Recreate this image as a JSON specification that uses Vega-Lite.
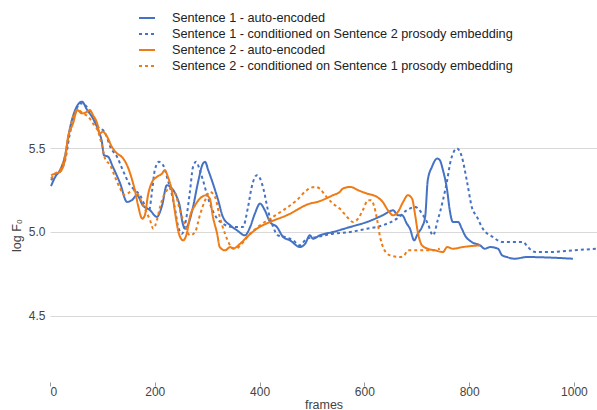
{
  "$schema": "https://vega.github.io/schema/vega-lite/v6.json",
  "width": 547,
  "height": 294,
  "autosize": {"type": "none"},
  "padding": {"left": 50, "top": 88, "right": 0, "bottom": 28},
  "background": "white",
  "config": {
    "view": {"stroke": null},
    "font": "Liberation Sans"
  },
  "data": {"values": [
{"s":"A","f":2,"v":5.275},{"s":"A","f":10,"v":5.33},{"s":"A","f":19,"v":5.37},{"s":"A","f":29,"v":5.46},{"s":"A","f":38,"v":5.62},{"s":"A","f":48,"v":5.73},{"s":"A","f":61,"v":5.78},{"s":"A","f":71,"v":5.73},{"s":"A","f":82,"v":5.68},{"s":"A","f":92,"v":5.61},{"s":"A","f":99,"v":5.54},{"s":"A","f":103,"v":5.46},{"s":"A","f":111,"v":5.45},{"s":"A","f":120,"v":5.39},{"s":"A","f":134,"v":5.29},{"s":"A","f":147,"v":5.18},{"s":"A","f":156,"v":5.19},{"s":"A","f":166,"v":5.22},{"s":"A","f":177,"v":5.16},{"s":"A","f":191,"v":5.13},{"s":"A","f":204,"v":5.09},{"s":"A","f":214,"v":5.16},{"s":"A","f":223,"v":5.28},{"s":"A","f":233,"v":5.26},{"s":"A","f":242,"v":5.21},{"s":"A","f":248,"v":5.15},{"s":"A","f":252,"v":5.07},{"s":"A","f":258,"v":5.02},{"s":"A","f":263,"v":5.04},{"s":"A","f":273,"v":5.15},{"s":"A","f":282,"v":5.29},{"s":"A","f":292,"v":5.41},{"s":"A","f":296,"v":5.42},{"s":"A","f":302,"v":5.37},{"s":"A","f":311,"v":5.29},{"s":"A","f":321,"v":5.19},{"s":"A","f":330,"v":5.09},{"s":"A","f":344,"v":5.04},{"s":"A","f":357,"v":5.01},{"s":"A","f":372,"v":4.98},{"s":"A","f":382,"v":5.03},{"s":"A","f":391,"v":5.11},{"s":"A","f":401,"v":5.17},{"s":"A","f":410,"v":5.13},{"s":"A","f":420,"v":5.06},{"s":"A","f":433,"v":5.03},{"s":"A","f":445,"v":4.97},{"s":"A","f":458,"v":4.95},{"s":"A","f":477,"v":4.91},{"s":"A","f":487,"v":4.93},{"s":"A","f":496,"v":4.98},{"s":"A","f":502,"v":4.96},{"s":"A","f":515,"v":4.98},{"s":"A","f":540,"v":5.0},{"s":"A","f":573,"v":5.03},{"s":"A","f":605,"v":5.06},{"s":"A","f":635,"v":5.1},{"s":"A","f":655,"v":5.13},{"s":"A","f":664,"v":5.1},{"s":"A","f":672,"v":5.1},{"s":"A","f":681,"v":5.05},{"s":"A","f":687,"v":5.02},{"s":"A","f":695,"v":4.95},{"s":"A","f":702,"v":4.99},{"s":"A","f":710,"v":5.03},{"s":"A","f":716,"v":5.09},{"s":"A","f":721,"v":5.31},{"s":"A","f":729,"v":5.39},{"s":"A","f":739,"v":5.44},{"s":"A","f":744,"v":5.43},{"s":"A","f":750,"v":5.37},{"s":"A","f":758,"v":5.25},{"s":"A","f":763,"v":5.13},{"s":"A","f":769,"v":5.06},{"s":"A","f":779,"v":5.06},{"s":"A","f":786,"v":5.02},{"s":"A","f":792,"v":4.98},{"s":"A","f":805,"v":4.94},{"s":"A","f":821,"v":4.92},{"s":"A","f":830,"v":4.9},{"s":"A","f":840,"v":4.91},{"s":"A","f":855,"v":4.9},{"s":"A","f":863,"v":4.86},{"s":"A","f":872,"v":4.85},{"s":"A","f":887,"v":4.84},{"s":"A","f":910,"v":4.85},{"s":"A","f":998,"v":4.84},
{"s":"B","f":2,"v":5.31},{"s":"B","f":10,"v":5.34},{"s":"B","f":19,"v":5.36},{"s":"B","f":29,"v":5.43},{"s":"B","f":38,"v":5.59},{"s":"B","f":48,"v":5.71},{"s":"B","f":57,"v":5.77},{"s":"B","f":67,"v":5.76},{"s":"B","f":76,"v":5.72},{"s":"B","f":86,"v":5.67},{"s":"B","f":94,"v":5.62},{"s":"B","f":101,"v":5.61},{"s":"B","f":107,"v":5.58},{"s":"B","f":115,"v":5.51},{"s":"B","f":128,"v":5.45},{"s":"B","f":139,"v":5.37},{"s":"B","f":153,"v":5.28},{"s":"B","f":162,"v":5.25},{"s":"B","f":172,"v":5.22},{"s":"B","f":181,"v":5.16},{"s":"B","f":189,"v":5.13},{"s":"B","f":195,"v":5.25},{"s":"B","f":200,"v":5.37},{"s":"B","f":208,"v":5.42},{"s":"B","f":216,"v":5.4},{"s":"B","f":225,"v":5.31},{"s":"B","f":233,"v":5.22},{"s":"B","f":239,"v":5.13},{"s":"B","f":244,"v":5.04},{"s":"B","f":252,"v":4.99},{"s":"B","f":260,"v":5.08},{"s":"B","f":267,"v":5.24},{"s":"B","f":273,"v":5.39},{"s":"B","f":279,"v":5.42},{"s":"B","f":286,"v":5.37},{"s":"B","f":292,"v":5.31},{"s":"B","f":300,"v":5.22},{"s":"B","f":309,"v":5.14},{"s":"B","f":319,"v":5.08},{"s":"B","f":330,"v":5.05},{"s":"B","f":349,"v":5.03},{"s":"B","f":368,"v":5.03},{"s":"B","f":378,"v":5.15},{"s":"B","f":385,"v":5.27},{"s":"B","f":395,"v":5.34},{"s":"B","f":401,"v":5.32},{"s":"B","f":408,"v":5.25},{"s":"B","f":416,"v":5.13},{"s":"B","f":426,"v":5.03},{"s":"B","f":435,"v":4.98},{"s":"B","f":448,"v":4.97},{"s":"B","f":464,"v":4.95},{"s":"B","f":477,"v":4.92},{"s":"B","f":490,"v":4.96},{"s":"B","f":510,"v":4.97},{"s":"B","f":540,"v":4.99},{"s":"B","f":573,"v":5.0},{"s":"B","f":605,"v":5.02},{"s":"B","f":635,"v":5.04},{"s":"B","f":662,"v":5.08},{"s":"B","f":681,"v":5.13},{"s":"B","f":697,"v":5.15},{"s":"B","f":710,"v":5.11},{"s":"B","f":721,"v":5.05},{"s":"B","f":731,"v":4.98},{"s":"B","f":740,"v":5.07},{"s":"B","f":750,"v":5.19},{"s":"B","f":758,"v":5.31},{"s":"B","f":765,"v":5.43},{"s":"B","f":777,"v":5.5},{"s":"B","f":786,"v":5.45},{"s":"B","f":796,"v":5.3},{"s":"B","f":805,"v":5.15},{"s":"B","f":815,"v":5.09},{"s":"B","f":826,"v":5.02},{"s":"B","f":845,"v":4.97},{"s":"B","f":864,"v":4.94},{"s":"B","f":884,"v":4.94},{"s":"B","f":903,"v":4.94},{"s":"B","f":912,"v":4.91},{"s":"B","f":926,"v":4.88},{"s":"B","f":954,"v":4.88},{"s":"B","f":998,"v":4.89},{"s":"B","f":1044,"v":4.9},
{"s":"C","f":2,"v":5.34},{"s":"C","f":10,"v":5.35},{"s":"C","f":19,"v":5.36},{"s":"C","f":29,"v":5.44},{"s":"C","f":34,"v":5.56},{"s":"C","f":44,"v":5.65},{"s":"C","f":52,"v":5.73},{"s":"C","f":61,"v":5.71},{"s":"C","f":71,"v":5.72},{"s":"C","f":76,"v":5.73},{"s":"C","f":82,"v":5.7},{"s":"C","f":90,"v":5.65},{"s":"C","f":95,"v":5.59},{"s":"C","f":101,"v":5.6},{"s":"C","f":109,"v":5.57},{"s":"C","f":118,"v":5.51},{"s":"C","f":128,"v":5.47},{"s":"C","f":137,"v":5.45},{"s":"C","f":147,"v":5.4},{"s":"C","f":156,"v":5.32},{"s":"C","f":162,"v":5.25},{"s":"C","f":168,"v":5.16},{"s":"C","f":176,"v":5.08},{"s":"C","f":181,"v":5.1},{"s":"C","f":187,"v":5.22},{"s":"C","f":195,"v":5.3},{"s":"C","f":204,"v":5.33},{"s":"C","f":214,"v":5.35},{"s":"C","f":219,"v":5.37},{"s":"C","f":225,"v":5.33},{"s":"C","f":233,"v":5.24},{"s":"C","f":239,"v":5.11},{"s":"C","f":246,"v":4.99},{"s":"C","f":254,"v":4.95},{"s":"C","f":261,"v":4.99},{"s":"C","f":267,"v":5.09},{"s":"C","f":277,"v":5.16},{"s":"C","f":286,"v":5.2},{"s":"C","f":298,"v":5.22},{"s":"C","f":305,"v":5.2},{"s":"C","f":311,"v":5.09},{"s":"C","f":319,"v":4.99},{"s":"C","f":324,"v":4.91},{"s":"C","f":334,"v":4.89},{"s":"C","f":344,"v":4.91},{"s":"C","f":349,"v":4.9},{"s":"C","f":363,"v":4.93},{"s":"C","f":376,"v":4.97},{"s":"C","f":395,"v":5.02},{"s":"C","f":420,"v":5.06},{"s":"C","f":452,"v":5.1},{"s":"C","f":496,"v":5.17},{"s":"C","f":510,"v":5.18},{"s":"C","f":540,"v":5.22},{"s":"C","f":553,"v":5.24},{"s":"C","f":559,"v":5.26},{"s":"C","f":573,"v":5.27},{"s":"C","f":588,"v":5.25},{"s":"C","f":605,"v":5.23},{"s":"C","f":624,"v":5.21},{"s":"C","f":635,"v":5.18},{"s":"C","f":645,"v":5.13},{"s":"C","f":655,"v":5.1},{"s":"C","f":664,"v":5.12},{"s":"C","f":674,"v":5.18},{"s":"C","f":683,"v":5.22},{"s":"C","f":691,"v":5.2},{"s":"C","f":697,"v":5.1},{"s":"C","f":702,"v":5.0},{"s":"C","f":710,"v":4.92},{"s":"C","f":721,"v":4.9},{"s":"C","f":735,"v":4.89},{"s":"C","f":750,"v":4.88},{"s":"C","f":758,"v":4.91},{"s":"C","f":769,"v":4.9},{"s":"C","f":788,"v":4.91},{"s":"C","f":821,"v":4.92},
{"s":"D","f":2,"v":5.32},{"s":"D","f":10,"v":5.35},{"s":"D","f":19,"v":5.37},{"s":"D","f":29,"v":5.46},{"s":"D","f":34,"v":5.55},{"s":"D","f":42,"v":5.67},{"s":"D","f":53,"v":5.73},{"s":"D","f":63,"v":5.71},{"s":"D","f":73,"v":5.69},{"s":"D","f":82,"v":5.65},{"s":"D","f":92,"v":5.6},{"s":"D","f":99,"v":5.52},{"s":"D","f":105,"v":5.44},{"s":"D","f":115,"v":5.4},{"s":"D","f":124,"v":5.33},{"s":"D","f":134,"v":5.26},{"s":"D","f":143,"v":5.22},{"s":"D","f":153,"v":5.24},{"s":"D","f":162,"v":5.25},{"s":"D","f":172,"v":5.2},{"s":"D","f":181,"v":5.14},{"s":"D","f":191,"v":5.07},{"s":"D","f":197,"v":5.02},{"s":"D","f":204,"v":5.07},{"s":"D","f":210,"v":5.15},{"s":"D","f":219,"v":5.23},{"s":"D","f":229,"v":5.26},{"s":"D","f":239,"v":5.23},{"s":"D","f":248,"v":5.13},{"s":"D","f":258,"v":5.04},{"s":"D","f":267,"v":4.98},{"s":"D","f":277,"v":5.0},{"s":"D","f":286,"v":5.1},{"s":"D","f":296,"v":5.19},{"s":"D","f":305,"v":5.24},{"s":"D","f":315,"v":5.21},{"s":"D","f":324,"v":5.09},{"s":"D","f":334,"v":4.99},{"s":"D","f":344,"v":4.92},{"s":"D","f":355,"v":4.9},{"s":"D","f":366,"v":4.93},{"s":"D","f":382,"v":4.99},{"s":"D","f":401,"v":5.04},{"s":"D","f":420,"v":5.08},{"s":"D","f":445,"v":5.13},{"s":"D","f":471,"v":5.19},{"s":"D","f":490,"v":5.25},{"s":"D","f":506,"v":5.27},{"s":"D","f":515,"v":5.26},{"s":"D","f":525,"v":5.22},{"s":"D","f":540,"v":5.17},{"s":"D","f":553,"v":5.14},{"s":"D","f":567,"v":5.09},{"s":"D","f":578,"v":5.06},{"s":"D","f":588,"v":5.08},{"s":"D","f":597,"v":5.13},{"s":"D","f":607,"v":5.19},{"s":"D","f":613,"v":5.19},{"s":"D","f":618,"v":5.16},{"s":"D","f":624,"v":5.08},{"s":"D","f":630,"v":4.97},{"s":"D","f":637,"v":4.9},{"s":"D","f":649,"v":4.86},{"s":"D","f":668,"v":4.85},{"s":"D","f":676,"v":4.86},{"s":"D","f":683,"v":4.89},{"s":"D","f":706,"v":4.89},{"s":"D","f":731,"v":4.89},{"s":"D","f":744,"v":4.9}
  ]},
  "mark": {"type": "line", "interpolate": "monotone", "strokeWidth": 2, "clip": true},
  "encoding": {
    "x": {
      "field": "f", "type": "quantitative",
      "scale": {"domain": [0, 1044], "nice": false, "zero": false},
      "axis": {
        "title": "frames", "values": [0, 200, 400, 600, 800, 1000], "format": "d",
        "grid": false, "domain": false, "ticks": true, "tickColor": "#999999", "tickSize": 4,
        "labelColor": "#444444", "labelFontSize": 12, "labelPadding": 0, "labelFont": "Liberation Sans",
        "titleColor": "#444444", "titleFontSize": 12.5, "titleFontWeight": "normal", "titlePadding": 1, "titleFont": "Liberation Sans"
      }
    },
    "y": {
      "field": "v", "type": "quantitative",
      "scale": {"domain": [4.102, 5.862], "nice": false, "zero": false},
      "axis": {
        "title": "log F₀", "values": [4.5, 5.0, 5.5], "format": ".1f",
        "grid": true, "gridColor": "#d9d9d9", "gridWidth": 1,
        "domain": false, "ticks": false,
        "labelColor": "#444444", "labelFontSize": 12, "labelPadding": 5, "labelFont": "Liberation Sans",
        "titleColor": "#444444", "titleFontSize": 12.5, "titleFontWeight": "normal", "titlePadding": 5, "titleFont": "Liberation Sans"
      }
    },
    "color": {
      "field": "s", "type": "nominal",
      "scale": {"domain": ["A", "B", "C", "D"], "range": ["#4472c4", "#4472c4", "#ee7b16", "#ee7b16"]},
      "legend": {
        "title": null, "orient": "none", "legendX": 88, "legendY": -79, "direction": "vertical",
        "symbolType": "stroke", "symbolSize": 256, "symbolStrokeWidth": 2,
        "labelFontSize": 12.7, "labelColor": "#222222", "labelFont": "Liberation Sans", "labelOffset": 16, "labelLimit": 0,
        "rowPadding": 0,
        "labelExpr": "datum.value == 'A' ? 'Sentence 1 - auto-encoded' : datum.value == 'B' ? 'Sentence 1 - conditioned on Sentence 2 prosody embedding' : datum.value == 'C' ? 'Sentence 2 - auto-encoded' : 'Sentence 2 - conditioned on Sentence 1 prosody embedding'"
      }
    },
    "strokeDash": {
      "field": "s", "type": "nominal",
      "scale": {"domain": ["A", "B", "C", "D"], "range": [[1, 0], [3, 3], [1, 0], [3, 3]]},
      "legend": {
        "title": null, "orient": "none", "legendX": 88, "legendY": -79, "direction": "vertical",
        "symbolType": "stroke", "symbolSize": 256, "symbolStrokeWidth": 2,
        "labelFontSize": 12.7, "labelColor": "#222222", "labelFont": "Liberation Sans", "labelOffset": 16, "labelLimit": 0,
        "rowPadding": 0,
        "labelExpr": "datum.value == 'A' ? 'Sentence 1 - auto-encoded' : datum.value == 'B' ? 'Sentence 1 - conditioned on Sentence 2 prosody embedding' : datum.value == 'C' ? 'Sentence 2 - auto-encoded' : 'Sentence 2 - conditioned on Sentence 1 prosody embedding'"
      }
    }
  }
}
